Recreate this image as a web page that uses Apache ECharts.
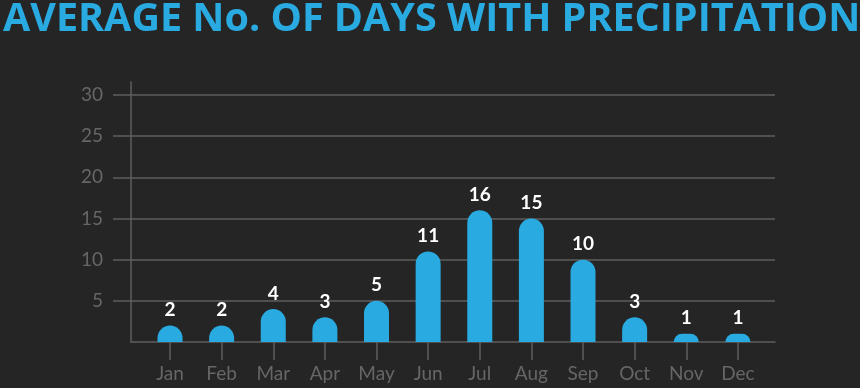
<!DOCTYPE html>
<html>
<head>
<meta charset="utf-8">
<script src="https://cdn.jsdelivr.net/npm/echarts@6/dist/echarts.min.js"></script>
<style>
html,body{margin:0;padding:0;background:#252525;}
#c{width:860px;height:388px;}
</style>
</head>
<body>
<div id="c"></div>
<script>
var titleText = 'AVERAGE No. OF DAYS WITH PRECIPITATION';
var months = ['Jan','Feb','Mar','Apr','May','Jun','Jul','Aug','Sep','Oct','Nov','Dec'];
var days = [2, 2, 4, 3, 5, 11, 16, 15, 10, 3, 1, 1];
var yMin = 0, yMax = 30, yStep = 5;

var gridColor = '#5e5e5e';
var labelColor = '#666666';
var blue = '#29abe2';

var chart = echarts.init(document.getElementById('c'), null, {renderer: 'canvas'});
chart.setOption({
  backgroundColor: '#252525',
  animation: false,
  title: {
    text: titleText, left: -2, top: -5,
    textStyle: {color: blue, fontFamily: 'Open Sans', fontWeight: 'bold', fontSize: 39.5}
  },
  grid: [
    {left: 113, right: 85, top: 95, bottom: 87.2},
    {left: 131, right: 85, top: 82, bottom: 46},
    {left: 144.2, right: 96.3, top: 95, bottom: 46}
  ],
  xAxis: [
    {gridIndex: 0, type: 'value', show: false},
    {gridIndex: 1, type: 'value', min: 0, max: 1, axisLine: {show: true, onZero: false, lineStyle: {color: gridColor, width: 1.5}},
      axisTick: {show: false}, axisLabel: {show: false}, splitLine: {show: false}},
    {gridIndex: 2, type: 'category', data: months,
      axisLine: {show: false},
      axisTick: {show: true, alignWithLabel: true, length: 18, lineStyle: {color: gridColor, width: 1.5}},
      axisLabel: {color: labelColor, fontFamily: 'Lato', fontSize: 19, margin: 22},
      splitLine: {show: false}}
  ],
  yAxis: [
    {gridIndex: 0, type: 'value', min: yMin + yStep, max: yMax, interval: yStep,
      axisLine: {show: false}, axisTick: {show: false},
      axisLabel: {color: labelColor, fontFamily: 'Lato', fontSize: 19, margin: 10},
      splitLine: {show: true, lineStyle: {color: gridColor, width: 1.5}}},
    {gridIndex: 1, type: 'value', min: 0, max: 1, axisLine: {show: true, lineStyle: {color: gridColor, width: 1.5}},
      axisTick: {show: false}, axisLabel: {show: false}, splitLine: {show: false}},
    {gridIndex: 2, type: 'value', min: yMin, max: yMax, show: false, splitLine: {show: false}}
  ],
  series: [{
    type: 'bar', xAxisIndex: 2, yAxisIndex: 2,
    data: days, barWidth: 25,
    itemStyle: {color: blue, borderRadius: [12.5, 12.5, 0, 0]},
    label: {show: true, position: 'top', distance: 6, color: '#ffffff', fontFamily: 'Lato', fontWeight: 'bold', fontSize: 19}
  }]
});
</script>
</body>
</html>
